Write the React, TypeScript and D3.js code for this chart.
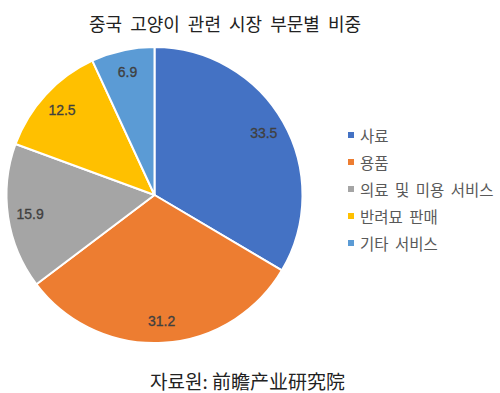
import React from "react";
import * as d3 from "d3";

const categories = ["사료", "용품", "의료 및 미용 서비스", "반려묘 판매", "기타 서비스"];
const values = [33.5, 31.2, 15.9, 12.5, 6.9];
const colors = ["#4472C4", "#ED7D31", "#A5A5A5", "#FFC000", "#5B9BD5"];
const title = "중국 고양이 관련 시장 부문별 비중";
const source = "자료원: 前瞻产业研究院";

const W = 500;
const H = 393;
const cx = 154.5;
const cy = 195;
const R = 148;

export default function App() {
  const pie = d3.pie<number>().sort(null).value((d) => d)(values);
  const arc = d3.arc<d3.PieArcDatum<number>>().innerRadius(0).outerRadius(R);
  const labelArc = d3.arc<d3.PieArcDatum<number>>().innerRadius(R * 0.85).outerRadius(R * 0.85);
  const legendY = d3.scalePoint<string>().domain(categories).range([135, 243]);
  const kr = "'Noto Sans CJK KR', 'Noto Sans', sans-serif";
  return (
    <svg width={W} height={H} style={{ position: "absolute", left: 0, top: 0, background: "#fff" }}>
      <text x={225} y={23} textAnchor="middle" dominantBaseline="central" fontFamily={kr} fontSize={18} fill="#222" style={{ wordSpacing: "4px" }}>
        {title}
      </text>
      <g transform={`translate(${cx},${cy})`}>
        {pie.map((p, i) => (
          <path key={i} d={arc(p) || ""} fill={colors[i]} stroke="#fff" strokeWidth={2} strokeLinejoin="round" />
        ))}
        {pie.map((p, i) => {
          const [x, y] = labelArc.centroid(p);
          return (
            <text key={"l" + i} x={x} y={y} textAnchor="middle" dominantBaseline="central" fontFamily="'Liberation Sans', Arial, sans-serif" fontSize={14} fill="#404040" stroke="#404040" strokeWidth={0.3}>
              {values[i]}
            </text>
          );
        })}
      </g>
      {categories.map((c, i) => (
        <g key={"g" + i} transform={`translate(348,${legendY(c)})`}>
          <rect x={0} y={-3} width={6} height={6} fill={colors[i]} />
          <text x={12} y={0} dominantBaseline="central" fontFamily={kr} fontSize={15.5} fill="#595959" style={{ wordSpacing: "3px" }}>
            {c}
          </text>
        </g>
      ))}
      <text x={247.5} y={380} textAnchor="middle" dominantBaseline="central" fontFamily={kr} fontSize={19} fill="#222">
        {source}
      </text>
    </svg>
  );
}
